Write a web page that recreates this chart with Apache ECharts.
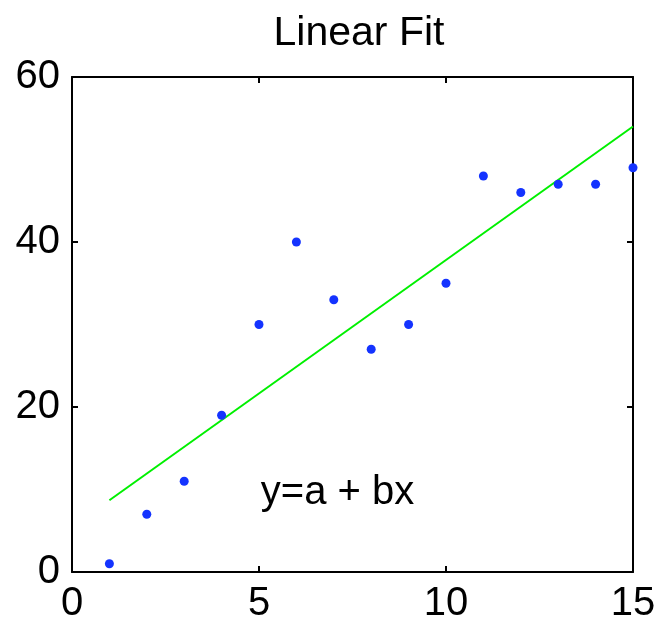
<!DOCTYPE html>
<html>
<head>
<meta charset="utf-8">
<script src="https://cdn.jsdelivr.net/npm/echarts@6/dist/echarts.min.js"></script>
<style>
html, body { margin: 0; padding: 0; background: #fff; }
#chart { width: 660px; height: 626px; }
</style>
</head>
<body>
<div id="chart"></div>
<script>
// measured points
var xs = [1, 2, 3, 4, 5, 6, 7, 8, 9, 10, 11, 12, 13, 14, 15];
var ys = [1, 7, 11, 19, 30, 40, 33, 27, 30, 35, 48, 46, 47, 47, 49];
// fitted line ends
var fitX = [1, 15];
var fitY = [8.7, 54];
// label of the formula
var noteText = 'y=a + bx';
var notePos = [7.1, 9.6];

var xTicks = [0, 5, 10, 15];
var yTicks = [0, 20, 40, 60];

var font = 'Liberation Sans, Arial, Helvetica, sans-serif';

var pts = [];
for (var i = 0; i < xs.length; i++) {
	pts.push([xs[i], ys[i]]);
}
var fit = [];
for (var j = 0; j < fitX.length; j++) {
	fit.push([fitX[j], fitY[j]]);
}

var chart = echarts.init(document.getElementById('chart'));

var lineStyle = { color: '#000', width: 2 };

var option = {
	backgroundColor: '#fff',
	animation: false,
	title: {
		text: 'Linear Fit',
		left: 354,
		top: 8,
		textAlign: 'center',
		textStyle: { fontFamily: font, fontSize: 41, fontWeight: 'normal', color: '#000' }
	},
	grid: { left: 72, top: 77, right: 27, bottom: 54 },
	xAxis: [{
		type: 'value', min: xTicks[0], max: xTicks[xTicks.length - 1], interval: 5,
		position: 'bottom',
		axisLine: { show: true, onZero: false, lineStyle: lineStyle },
		axisTick: { show: true, inside: true, length: 6, lineStyle: lineStyle },
		axisLabel: { fontFamily: font, fontSize: 40, color: '#000', margin: 12 },
		splitLine: { show: false }
	}, {
		type: 'value', min: xTicks[0], max: xTicks[xTicks.length - 1], interval: 5,
		position: 'top',
		axisLine: { show: true, onZero: false, lineStyle: lineStyle },
		axisTick: { show: true, inside: true, length: 6, lineStyle: lineStyle },
		axisLabel: { show: false },
		splitLine: { show: false }
	}],
	yAxis: [{
		type: 'value', min: yTicks[0], max: yTicks[yTicks.length - 1], interval: 20,
		position: 'left',
		axisLine: { show: true, onZero: false, lineStyle: lineStyle },
		axisTick: { show: true, inside: true, length: 6, lineStyle: lineStyle },
		axisLabel: { fontFamily: font, fontSize: 40, color: '#000', margin: 12 },
		splitLine: { show: false }
	}, {
		type: 'value', min: yTicks[0], max: yTicks[yTicks.length - 1], interval: 20,
		position: 'right',
		axisLine: { show: true, onZero: false, lineStyle: lineStyle },
		axisTick: { show: true, inside: true, length: 6, lineStyle: lineStyle },
		axisLabel: { show: false },
		splitLine: { show: false }
	}],
	series: [{
		name: 'fit',
		type: 'line',
		data: fit,
		symbol: 'none',
		lineStyle: { color: '#00f000', width: 2 },
		z: 2
	}, {
		name: 'data',
		type: 'scatter',
		data: pts,
		symbol: 'circle',
		symbolSize: 9,
		itemStyle: { color: '#1433ff', opacity: 1 },
		z: 3
	}, {
		name: 'note',
		type: 'scatter',
		data: [notePos],
		symbolSize: 1,
		itemStyle: { color: 'rgba(255,255,255,0)', opacity: 1 },
		label: {
			show: true,
			position: 'inside',
			formatter: noteText,
			fontFamily: font,
			fontSize: 40,
			color: '#000',
			opacity: 1,
			textBorderWidth: 0
		},
		silent: true
	}]
};

chart.setOption(option);
</script>
</body>
</html>
